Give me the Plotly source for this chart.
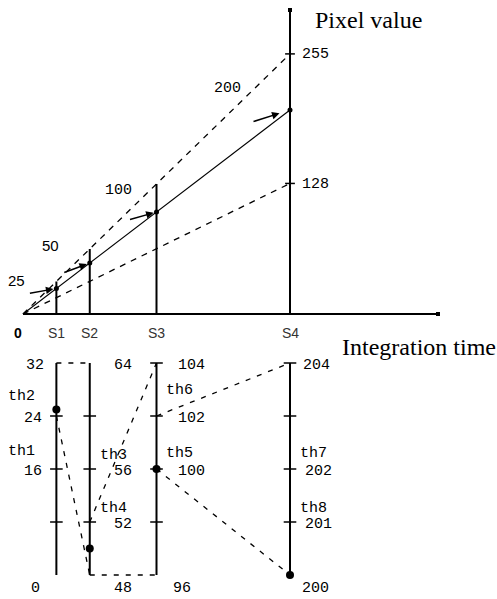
import plotly.graph_objects as go

# ---------------- data ----------------
time_labels = ["S1", "S2", "S3", "S4"]
integration_times = [1, 2, 4, 8]
pixel_values = [25, 50, 100, 200]
full_time = 8
upper_full_value = 255
lower_full_value = 128

# lower diagram: one local scale per integration time
axis_lo = [0, 48, 96, 200]
axis_hi = [32, 64, 104, 204]
axis_tick_values = [[16, 24], [52, 56], [100, 102], [201, 202]]
axis_top_labels = ["32", "64", "104", "204"]
axis_bottom_labels = ["0", "48", "96", "200"]
th_labels = ["th1", "th2", "th3", "th4", "th5", "th6", "th7", "th8"]
th_axis = [0, 0, 1, 1, 2, 2, 3, 3]
th_values = [16, 24, 56, 52, 100, 102, 202, 201]
map_src_axis = [0, 0, 1, 1, 2, 2]
map_src_val = [24, 32, 48, 52, 100, 102]
map_dst_axis = [1, 1, 2, 2, 3, 3]
map_dst_val = [48, 64, 96, 104, 200, 204]
arrow_labels = ["25", "50", "100", "200"]

# ---------------- geometry / style ----------------
W, H = 497, 599
X0, PX_T = 23, 33.375     # pixel of t=0, pixels per time unit
BASE, PX_V = 314, 1.02    # baseline pixel, pixels per pixel-value unit
B0, BH = 575, 212         # lower diagram bottom pixel, height
V_TOP = (BASE - 10) / PX_V
T_END = (438 - X0) / PX_T

MONO = "Liberation Mono"
SANS = "Liberation Sans"
SERIF = "Liberation Serif"
BLACK = "#000000"


def norm(i, v):
    return (v - axis_lo[i]) / (axis_hi[i] - axis_lo[i])


fig = go.Figure()


def line(x, y, axis="y", width=2, dash=None, color=BLACK):
    fig.add_trace(go.Scatter(x=x, y=y, yaxis=axis, mode="lines",
                             line=dict(color=color, width=width, dash=dash),
                             hoverinfo="skip"))


# ---- top diagram ----
line([0, T_END], [0, 0], width=2)
line([full_time, full_time], [0, V_TOP], width=2)
fig.add_trace(go.Scatter(x=[T_END, full_time], y=[0, V_TOP], mode="markers",
                         marker=dict(symbol="square", size=4, color=BLACK),
                         hoverinfo="skip"))
for t in integration_times[:-1]:
    line([t, t], [0, upper_full_value * t / full_time], width=2)
line([0, full_time], [0, upper_full_value], width=1.3, dash="6px,6px")
line([0, full_time], [0, lower_full_value], width=1.3, dash="6px,6px")
line([0] + integration_times, [0] + pixel_values, width=1.1)
fig.add_trace(go.Scatter(x=integration_times, y=pixel_values, mode="markers",
                         marker=dict(size=5, color=BLACK), hoverinfo="skip"))
fig.add_trace(go.Scatter(x=[full_time, full_time], y=[upper_full_value, lower_full_value],
                         mode="markers",
                         marker=dict(symbol="line-ew", size=7,
                                     line=dict(width=1.5, color=BLACK)),
                         hoverinfo="skip"))

# ---- lower diagram ----
for i, t in enumerate(integration_times):
    line([t, t], [0, 1], axis="y2", width=2)
tick_x, tick_y = [], []
for i, t in enumerate(integration_times):
    for n in [0.25, 0.5, 0.75] + ([1.0] if i >= 2 else []):
        tick_x.append(t)
        tick_y.append(n)
fig.add_trace(go.Scatter(x=tick_x, y=tick_y, yaxis="y2", mode="markers",
                         marker=dict(symbol="line-ew", size=9,
                                     line=dict(width=1.5, color=BLACK)),
                         hoverinfo="skip"))
for k in range(len(map_src_axis)):
    a, b = map_src_axis[k], map_dst_axis[k]
    line([integration_times[a], integration_times[b]],
         [norm(a, map_src_val[k]), norm(b, map_dst_val[k])],
         axis="y2", width=1.3, dash="5px,7px")
fig.add_trace(go.Scatter(x=integration_times,
                         y=[norm(i, v) for i, v in enumerate(pixel_values)],
                         yaxis="y2", mode="markers",
                         marker=dict(size=8, color=BLACK), hoverinfo="skip"))

# ---------------- annotations ----------------
ann = []


def text(x, y, s, yref="y", xshift=0, yshift=0, xanchor="center",
         family=MONO, size=15, color=BLACK):
    ann.append(dict(x=x, y=y, xref="x", yref=yref, text=s, showarrow=False,
                    xanchor=xanchor, yanchor="middle", xshift=xshift, yshift=yshift,
                    font=dict(family=family, size=size, color=color)))


# arrows to the measured points
arrow_tail = [(-28, -5), (-27, -10), (-28, -8), (-38, -12)]
arrow_standoff = [3, 3, 3, 11]
label_offset = [(-40, 8), (-39, 18), (-38, 22), (-63, 22)]
label_font = [SANS, SANS, MONO, MONO]
for k, (t, v) in enumerate(zip(integration_times, pixel_values)):
    ann.append(dict(x=t, y=v, xref="x", yref="y", text="", showarrow=True,
                    ax=arrow_tail[k][0], ay=-arrow_tail[k][1],
                    arrowhead=2, arrowsize=1, arrowwidth=1.5, arrowcolor=BLACK,
                    standoff=arrow_standoff[k]))
    text(t, v, arrow_labels[k], xshift=label_offset[k][0], yshift=label_offset[k][1],
         family=label_font[k], size=15)

# time labels
text(0, 0, "<b>0</b>", xshift=-5, yshift=-19, family=SANS, size=14)
for t, s in zip(integration_times, time_labels):
    text(t, 0, s, yshift=-19, family=SANS, size=14, color="#333333")
text(full_time, upper_full_value, "255", xanchor="left", xshift=10, yshift=-1)
text(full_time, lower_full_value, "128", xanchor="left", xshift=10, yshift=-1)

ann.append(dict(x=313 / W, y=1 - 20 / H, xref="paper", yref="paper",
                text="Pixel value", showarrow=False, xanchor="left", yanchor="middle",
                font=dict(family=SERIF, size=24, color=BLACK)))
ann.append(dict(x=1, y=1 - 347 / H, xref="paper", yref="paper",
                text="Integration time", showarrow=False, xanchor="right", xshift=1,
                yanchor="middle", font=dict(family=SERIF, size=24, color=BLACK)))

# lower diagram labels
side_shift = [-12, 22, 19, 11]
bottom_shift = [-14, 22, 14, 10]
for i, t in enumerate(integration_times):
    anchor = "right" if i == 0 else "left"
    text(t, 1, axis_top_labels[i], yref="y2", xanchor=anchor,
         xshift=side_shift[i] + (2 if i == 0 else 0), yshift=-2)
    for v in axis_tick_values[i]:
        text(t, norm(i, v), str(v), yref="y2", xanchor=anchor,
             xshift=side_shift[i] if i != 3 else 13, yshift=-2)
    text(t, 0, axis_bottom_labels[i], yref="y2", xanchor=anchor,
         xshift=bottom_shift[i], yshift=-13)

th_yshift = [18, 20, 14, 14, 16, 26, 16, 14]
th_xshift = [-19, 8, 7, 8]
for s, i, v, dy in zip(th_labels, th_axis, th_values, th_yshift):
    text(integration_times[i], norm(i, v), s, yref="y2",
         xanchor="right" if i == 0 else "left", xshift=th_xshift[i], yshift=dy)

fig.update_layout(
    width=W, height=H, margin=dict(l=0, r=0, t=0, b=0, pad=0),
    paper_bgcolor="white", plot_bgcolor="white", showlegend=False,
    xaxis=dict(range=[-X0 / PX_T, (W - X0) / PX_T], visible=False, fixedrange=True),
    yaxis=dict(range=[(BASE - H) / PX_V, BASE / PX_V], visible=False, fixedrange=True,
               domain=[0, 1]),
    yaxis2=dict(range=[(B0 - H) / BH, B0 / BH], visible=False, fixedrange=True,
                overlaying="y"),
    annotations=ann,
)

fig.write_html("out.html", config={"displayModeBar": False},
               post_script="document.body.style.margin='0';"
                           "document.body.style.overflow='hidden';")
